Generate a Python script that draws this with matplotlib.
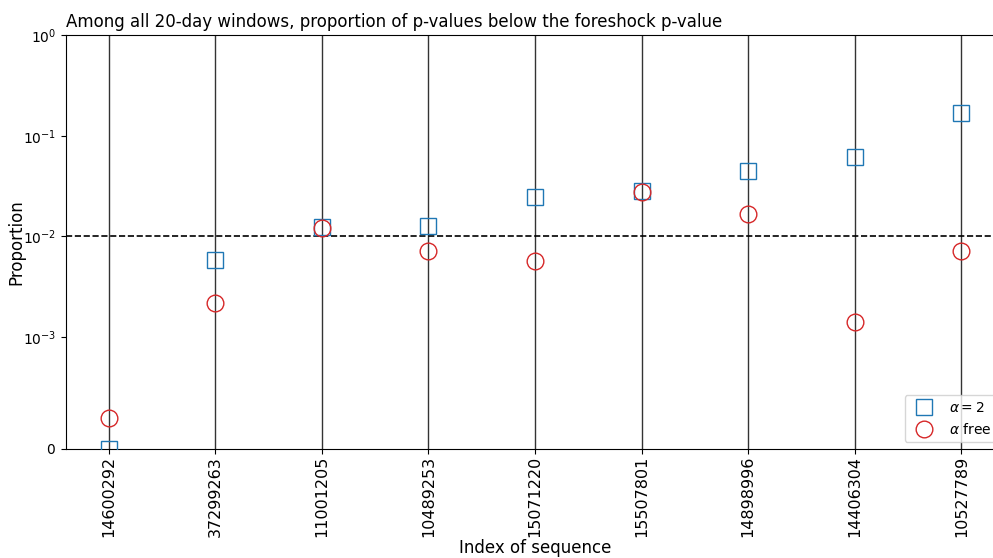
import matplotlib
matplotlib.use("Agg")
import matplotlib.pyplot as plt
import numpy as np

sequences = ["14600292", "37299263", "11001205", "10489253", "15071220",
             "15507801", "14898996", "14406304", "10527789"]
prop_alpha2 = [0.0, 5.8e-3, 1.23e-2, 1.26e-2, 2.45e-2, 2.84e-2, 4.43e-2, 6.2e-2, 0.169]
prop_alpha_free = [2.8e-4, 2.2e-3, 1.21e-2, 7.16e-3, 5.7e-3, 2.78e-2, 1.68e-2, 1.4e-3, 7.2e-3]
threshold = 1e-2

fig = plt.figure(figsize=(9.93, 5.58), dpi=100)
ax = fig.add_axes([66/993, (558-449)/558, (1004-66)/993, (449-35)/558])

x = np.arange(len(sequences))
for xi in x:
    ax.axvline(xi, color="k", lw=1.0, alpha=0.8, zorder=1)
ax.axhline(threshold, color="k", ls="--", lw=1.2, zorder=1)

ax.plot(x, prop_alpha2, ls="none", marker="s", ms=12, mfc="none",
        mec="tab:blue", mew=1.0, label=r"$\alpha = 2$", zorder=3)
ax.plot(x, prop_alpha_free, ls="none", marker="o", ms=12, mfc="none",
        mec="tab:red", mew=1.0, label=r"$\alpha$ free", zorder=3)

ax.set_yscale("symlog", linthresh=1e-3, linscale=1)
ax.set_ylim(0, 1)
ax.set_yticks([0, 1e-3, 1e-2, 1e-1, 1])
ax.yaxis.set_minor_locator(matplotlib.ticker.NullLocator())
ax.set_xlim(-0.4, len(sequences) - 1 + 0.4)
ax.set_xticks(x)
ax.set_xticklabels(sequences, rotation=90, fontsize=11.5)
ax.tick_params(axis="x", pad=1.5)
ax.tick_params(axis="y", labelsize=10)

ax.set_xlabel("Index of sequence", fontsize=12, labelpad=1)
ax.set_ylabel("Proportion", fontsize=12)
ax.yaxis.set_label_coords(-0.0437, 0.5)
ax.set_title("Among all 20-day windows, proportion of p-values below the foreshock p-value",
             loc="left", fontsize=12)
ax.legend(loc="lower right", fontsize=10)

fig.savefig("out.png", dpi=100)
